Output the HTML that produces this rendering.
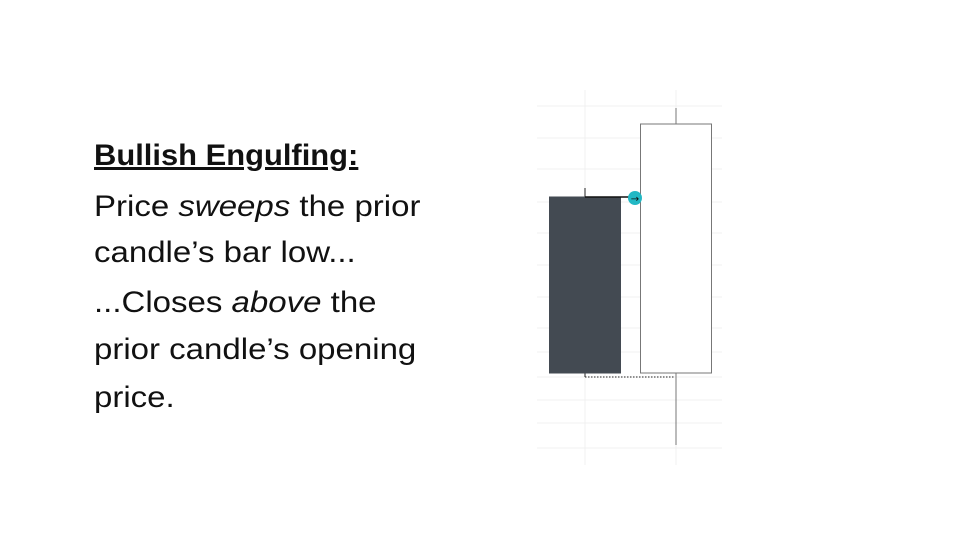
<!DOCTYPE html>
<html><head><meta charset="utf-8"><style>
body{margin:0;width:962px;height:541px;background:#fff;overflow:hidden;position:relative;font-family:"Liberation Sans",sans-serif;color:#111}
.t{position:absolute;left:94px;font-size:30px;white-space:nowrap;line-height:34px;transform:scaleX(1.1);transform-origin:0 0}
</style></head><body>
<div class="t" style="top:139px;font-weight:bold;text-decoration:underline;transform:scaleX(1.03)">Bullish Engulfing:</div>
<div class="t" style="top:190px">Price <i>sweeps</i> the prior</div>
<div class="t" style="top:236px">candle’s bar low...</div>
<div class="t" style="top:286px">...Closes <i>above</i> the</div>
<div class="t" style="top:333px">prior candle’s opening</div>
<div class="t" style="top:381px">price.</div>
<svg id="chart" width="962" height="541" style="position:absolute;left:0;top:0"></svg>
<script>
const candleNames=["bearish-candle","bullish-candle"];
const opens=[248,72];
const closes=[72,321];
const highs=[257,337];
const lows=[68,0];
const gridPrices=[339,307,276,243,212,180,148,117,93,68,45,22,-3];
const svg=document.getElementById('chart');
const NS='http://www.w3.org/2000/svg';
const y=p=>445-p;
const xc=i=>585+i*91;
function mk(t,a){const e=document.createElementNS(NS,t);for(const k in a)e.setAttribute(k,a[k]);svg.appendChild(e);return e;}
gridPrices.forEach(p=>{const e=mk('line',{x1:537,x2:722,y1:y(p),y2:y(p),stroke:'#f0f0f0','stroke-width':1});

});
[0,1].forEach(i=>{const e=mk('line',{x1:xc(i),x2:xc(i),y1:90,y2:465,stroke:'#f0f0f0','stroke-width':1});

});
opens.forEach((o,i)=>{
 const c=closes[i],up=c>o;
 const w=mk('line',{x1:xc(i),x2:xc(i),y1:y(highs[i]),y2:y(lows[i]),stroke:up?'#777':'#222','stroke-width':1});
 
 
 const b=mk('rect',{x:xc(i)-35.5,y:y(Math.max(o,c)),width:71,height:Math.abs(c-o),fill:up?'#fff':'#434a52',stroke:up?'#777':'#434a52','stroke-width':1});
 
 
});
const s=mk('line',{x1:xc(0),x2:630,y1:y(opens[0]),y2:y(opens[0]),stroke:'#111','stroke-width':1.5});


const d=mk('line',{x1:xc(0),x2:xc(1)-2,y1:y(lows[0]),y2:y(lows[0]),stroke:'#222','stroke-width':1,'stroke-dasharray':'1.5,1.5'});


const m=mk('circle',{cx:635,cy:y(opens[0])+1,r:7,fill:'#22b8c4'});


const a=mk('text',{x:635,y:y(opens[0])+5,'text-anchor':'middle','font-size':10,fill:'#111','font-family':'DejaVu Sans'});
a.textContent='→';


</script>
</body></html>
